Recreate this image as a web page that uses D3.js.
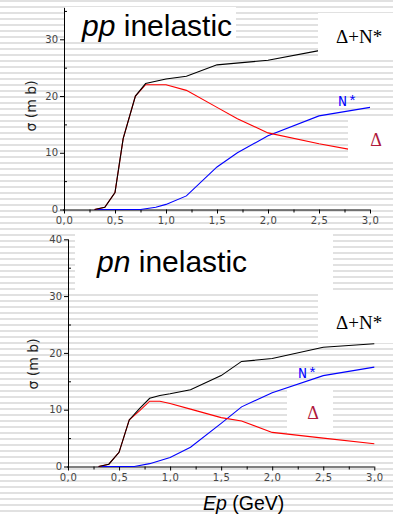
<!DOCTYPE html>
<html>
<head>
<meta charset="utf-8">
<script src="https://cdn.jsdelivr.net/npm/d3@7/dist/d3.min.js"></script>
<style>
  html, body { margin: 0; padding: 0; background: #fff; }
  svg { display: block; }
  .tick text { font-family: "DejaVu Sans", sans-serif; font-size: 10px; fill: #444; }
  .tick line, .domain { stroke: #000; }
</style>
</head>
<body>
<svg id="chart" width="393" height="516"></svg>
<script>
// Beam energy ticks (GeV) shared by both panels
const xMajorTicks = [0, 0.5, 1.0, 1.5, 2.0, 2.5, 3.0];
const xMinorTicks = [0.25, 0.75, 1.25, 1.75, 2.25, 2.75];

// pp inelastic cross sections (mb) vs Ep (GeV)
const ppTotal = [[0.3,0],[0.4,0.4],[0.5,3],[0.58,12.5],[0.7,20],[0.8,22.2],[1.0,23],[1.2,23.5],[1.5,25.5],[2.0,26.3],[2.5,28]];
const ppDelta = [[0.3,0],[0.4,0.4],[0.5,3],[0.58,12.5],[0.7,20],[0.8,22],[1.0,22],[1.2,21],[1.5,18],[1.7,16],[2.0,13.5],[2.5,11.6],[2.8,10.6]];
const ppNstar = [[0.3,0],[0.75,0],[0.9,0.4],[1.0,0.9],[1.2,2.4],[1.5,7.5],[1.7,10],[2.0,13],[2.5,16.5],[3.0,18]];
const ppYMajor = [0, 10, 20, 30];
const ppYMinor = [5, 15, 25, 35];

// pn inelastic cross sections (mb) vs Ep (GeV)
const pnTotal = [[0.3,0],[0.4,0.4],[0.5,2.5],[0.6,8.2],[0.7,10.2],[0.8,12],[0.9,12.5],[1.0,12.8],[1.2,13.5],[1.5,16],[1.7,18.5],[2.0,19],[2.5,21],[3.0,21.6]];
const pnDelta = [[0.3,0],[0.4,0.4],[0.5,2.5],[0.6,8.2],[0.7,9.8],[0.8,11.5],[0.9,11.5],[1.0,11.1],[1.2,10.1],[1.5,8.6],[1.7,8.0],[2.0,6.0],[2.5,5.0],[3.0,4.0]];
const pnNstar = [[0.3,0],[0.65,0],[0.8,0.5],[1.0,1.6],[1.2,3.4],[1.5,7.6],[1.7,10.5],[2.0,13],[2.5,16],[3.0,17.5]];
const pnYMajor = [0, 10, 20, 30, 40];
const pnYMinor = [5, 15, 25, 35];

const svg = d3.select("#chart");
const W = 393, H = 516;

// Striped backdrop
const defs = svg.append("defs");
const pat = defs.append("pattern")
  .attr("id", "stripes").attr("patternUnits", "userSpaceOnUse")
  .attr("width", W).attr("height", 6);
pat.append("rect").attr("width", W).attr("height", 6).attr("fill", "#ffffff");
pat.append("rect").attr("width", W).attr("height", 2).attr("fill", "#e1e1e1");
svg.append("rect").attr("width", W).attr("height", H).attr("fill", "url(#stripes)");

const fmtX = d => d3.format(".1f")(d).replace(".", ",");

function panel(cfg) {
  const g = svg.append("g");
  const x = d3.scaleLinear().domain([0, 3]).range([cfg.x0, cfg.x1]);
  const y = d3.scaleLinear().domain([0, cfg.yRef]).range([cfg.y0, cfg.yRefPx]);

  // white title box
  g.append("rect").attr("x", cfg.titleBox[0]).attr("y", cfg.titleBox[1])
    .attr("width", cfg.titleBox[2]).attr("height", cfg.titleBox[3]).attr("fill", "#fff");

  // x axis
  g.append("g").attr("transform", `translate(0,${cfg.y0})`)
    .call(d3.axisBottom(x).tickValues(xMinorTicks).tickSize(3).tickSizeOuter(0).tickFormat(""))
    .call(a => a.select(".domain").remove());
  const xa = g.append("g").attr("transform", `translate(0,${cfg.y0})`)
    .call(d3.axisBottom(x).tickValues(xMajorTicks).tickSize(4).tickSizeOuter(0).tickPadding(3).tickFormat(fmtX));
  xa.select(".domain").attr("d", `M${cfg.x0 - 1},0.5H${cfg.x1}`);
  xa.selectAll(".tick text").attr("letter-spacing", "0.6px");

  // y axis
  g.append("g").attr("transform", `translate(${cfg.x0},0)`)
    .call(d3.axisRight(y).tickValues(cfg.yMinor).tickSize(3).tickSizeOuter(0).tickFormat(""))
    .call(a => a.select(".domain").remove());
  const ya = g.append("g").attr("transform", `translate(${cfg.x0},0)`)
    .call(d3.axisLeft(y).tickValues(cfg.yMajor).tickSize(4).tickSizeOuter(0).tickPadding(2).tickFormat(d3.format("d")));
  ya.select(".domain").attr("d", `M0.5,${cfg.y0 + 1}V${y(cfg.yTop) - cfg.yOver}`);

  // curves
  const line = d3.line().x(d => x(d[0])).y(d => y(d[1]));
  [[cfg.nstar, "#0000ff"], [cfg.delta, "#ff0000"], [cfg.total, "#000000"]].forEach(([data, c]) => {
    g.append("path").datum(data).attr("d", line)
      .attr("fill", "none").attr("stroke", c).attr("stroke-width", 1.1);
  });

  // label boxes
  cfg.boxes.forEach(b => {
    g.append("rect").attr("x", b[0]).attr("y", b[1]).attr("width", b[2]).attr("height", b[3]).attr("fill", "#fff");
  });
  g.append("text").attr("x", cfg.sumLabel[0]).attr("y", cfg.sumLabel[1])
    .attr("font-family", "Liberation Serif, serif").attr("font-size", 19).attr("fill", "#000")
    .text("Δ+N*");
  g.append("text").attr("x", cfg.deltaLabel[0]).attr("y", cfg.deltaLabel[1])
    .attr("text-anchor", "middle")
    .attr("font-family", "Liberation Serif, serif").attr("font-size", 18).attr("fill", "#b01a3c")
    .text("Δ");
  g.append("text").attr("x", cfg.nLabel[0]).attr("y", cfg.nLabel[1])
    .attr("font-family", "Liberation Mono, monospace").attr("font-size", 15).attr("fill", "#0000ff")
    .attr("letter-spacing", "1px")
    .text("N*");

  // title
  const t = g.append("text").attr("x", cfg.title[0]).attr("y", cfg.title[1])
    .attr("font-family", "Liberation Sans, Arial, sans-serif").attr("font-size", 30).attr("fill", "#000");
  t.append("tspan").attr("font-style", "italic").text(cfg.titleItalic);
  t.append("tspan").text(" inelastic");

  // y title
  g.append("text")
    .attr("transform", `translate(${cfg.yTitle[0]},${cfg.yTitle[1]}) rotate(-90)`)
    .attr("text-anchor", "middle")
    .attr("font-family", "DejaVu Sans, sans-serif").attr("font-size", 14).attr("fill", "#222")
    .text("σ (m b)");
}

panel({
  x0: 64, x1: 370, y0: 209.5, yRef: 30, yRefPx: 39.3, yTop: 35, yOver: 3,
  yMajor: ppYMajor, yMinor: ppYMinor,
  total: ppTotal, delta: ppDelta, nstar: ppNstar,
  titleBox: [65, 7, 171, 33],
  boxes: [[318, 13, 75, 44], [348, 117, 45, 41]],
  sumLabel: [336, 43], deltaLabel: [376, 146], nLabel: [338, 106],
  title: [82, 36], titleItalic: "pp",
  yTitle: [36, 106]
});

panel({
  x0: 68, x1: 374.3, y0: 466.5, yRef: 40, yRefPx: 239.3, yTop: 40, yOver: 0,
  yMajor: pnYMajor, yMinor: pnYMinor,
  total: pnTotal, delta: pnDelta, nstar: pnNstar,
  titleBox: [75, 232, 258, 58],
  boxes: [[318, 293, 75, 50], [287, 389, 46, 44]],
  sumLabel: [336, 329], deltaLabel: [313, 419], nLabel: [298, 378],
  title: [97, 272], titleItalic: "pn",
  yTitle: [38, 364]
});

// x axis title
const xt = svg.append("text").attr("x", 203).attr("y", 510)
  .attr("font-family", "Liberation Sans, Arial, sans-serif").attr("font-size", 19.5).attr("fill", "#000");
xt.append("tspan").attr("font-style", "italic").text("Ep");
xt.append("tspan").text(" (GeV)");
</script>
</body>
</html>
